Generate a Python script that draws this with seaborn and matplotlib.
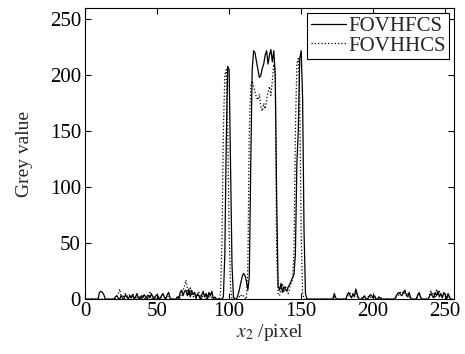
import numpy as np
import pandas as pd
import seaborn as sns
import matplotlib
matplotlib.use("Agg")
import matplotlib.pyplot as plt

# grey value profiles along x2 (one value per pixel, 0..255)
fovhfcs = [
    0, 0, 0, 0, 0, 0, 0, 0, 0, 0,
    6, 7, 6, 4, 0, 0, 0, 0, 0, 0,
    0, 2, 3, 1, 0, 3, 1, 0, 4, 2,
    0, 3, 1, 4, 0, 2, 5, 1, 0, 3,
    1, 4, 2, 0, 3, 1, 5, 2, 0, 3,
    4, 1, 0, 3, 5, 2, 0, 4, 6, 1,
    0, 0, 0, 0, 2, 0, 6, 8, 3, 7,
    8, 3, 9, 2, 8, 4, 6, 1, 5, 3,
    0, 4, 7, 2, 5, 0, 6, 3, 7, 0,
    2, 0, 0, 0, 0, 0, 2, 40, 140, 208,
    205, 120, 30, 2, 0, 0, 3, 8, 14, 20,
    23, 21, 16, 8, 20, 120, 205, 222, 220, 212,
    205, 198, 200, 206, 210, 218, 222, 210, 218, 223,
    212, 222, 200, 90, 12, 8, 14, 6, 11, 9,
    7, 11, 13, 16, 19, 22, 40, 120, 150, 215,
    222, 180, 60, 5, 0, 0, 0, 0, 0, 0,
    0, 0, 0, 0, 0, 0, 0, 0, 0, 0,
    0, 0, 0, 5, 1, 0, 0, 0, 0, 0,
    0, 0, 4, 6, 3, 1, 5, 2, 9, 4,
    0, 0, 0, 1, 3, 0, 0, 2, 4, 3,
    1, 3, 0, 0, 2, 1, 0, 0, 0, 0,
    0, 0, 0, 0, 0, 0, 3, 5, 6, 4,
    3, 6, 8, 4, 2, 6, 1, 0, 0, 0,
    0, 4, 6, 1, 0, 0, 0, 0, 0, 2,
    5, 3, 1, 6, 3, 7, 2, 5, 1, 6,
    4, 0, 5, 2, 0, 0,
]
fovhhcs = [
    0, 0, 0, 0, 0, 0, 0, 0, 0, 0,
    0, 0, 0, 0, 0, 0, 0, 0, 0, 0,
    0, 0, 3, 5, 9, 2, 4, 1, 5, 3,
    2, 4, 1, 5, 2, 0, 3, 1, 2, 0,
    3, 1, 0, 4, 2, 6, 1, 0, 2, 0,
    1, 3, 0, 2, 4, 1, 0, 3, 2, 0,
    0, 0, 0, 0, 0, 3, 1, 5, 8, 12,
    17, 9, 3, 10, 4, 2, 5, 0, 3, 6,
    2, 0, 5, 3, 0, 4, 2, 6, 0, 0,
    0, 0, 0, 0, 5, 50, 150, 200, 205, 150,
    60, 10, 0, 0, 0, 0, 0, 2, 4, 2,
    3, 1, 0, 30, 150, 190, 195, 190, 185, 180,
    178, 183, 172, 168, 175, 170, 178, 185, 190, 182,
    195, 210, 205, 40, 5, 3, 10, 14, 6, 12,
    8, 5, 10, 14, 18, 40, 150, 210, 215, 180,
    60, 5, 0, 0, 0, 0, 0, 0, 0, 0,
    0, 0, 0, 0, 0, 0, 0, 0, 0, 0,
    0, 0, 0, 3, 0, 0, 0, 0, 0, 0,
    0, 0, 2, 4, 5, 2, 3, 6, 7, 2,
    0, 0, 1, 3, 2, 0, 1, 3, 2, 1,
    2, 1, 0, 0, 1, 2, 0, 0, 0, 0,
    0, 0, 0, 0, 0, 0, 2, 3, 4, 6,
    5, 7, 4, 3, 5, 2, 0, 0, 0, 0,
    0, 3, 4, 2, 0, 0, 0, 0, 0, 3,
    8, 4, 6, 2, 9, 3, 7, 4, 2, 5,
    3, 1, 2, 0, 0, 0,
]
pixels = np.arange(len(fovhfcs))
ticks = [0, 50, 100, 150, 200, 250]

sns.set_style("ticks")
plt.rcParams['font.family'] = ['Liberation Serif', 'DejaVu Serif']
plt.rcParams['mathtext.fontset'] = 'stix'

fig = plt.figure(figsize=(4.65, 3.54), dpi=100)
ax = fig.add_axes([0.183, 0.155, 0.793, 0.822])

sns.lineplot(x=pixels, y=fovhfcs, ax=ax, color='black', lw=0.9, label='FOVHFCS')
sns.lineplot(x=pixels, y=fovhhcs, ax=ax, color='black', lw=0.9, linestyle=':', label='FOVHHCS')

ax.set_xlim(0, 256)
ax.set_ylim(0, 260)
ax.set_xticks(ticks)
ax.set_yticks(ticks)
ax.tick_params(direction='in', top=True, right=True, length=4, width=0.8,
               labelsize=15, pad=2, colors='black')
ax.tick_params(axis='y', pad=3)
for s in ax.spines.values():
    s.set_linewidth(0.8)
    s.set_color('black')
ax.set_xlabel(r'$x_2$ /pixel', fontsize=14, labelpad=1)
ax.set_ylabel('Grey value', fontsize=14, labelpad=12)

leg = ax.legend(loc='upper right', fontsize=15, frameon=True, fancybox=False,
                handlelength=1.7, handletextpad=0.1, borderpad=0.15,
                labelspacing=0.0, borderaxespad=0.25, framealpha=1)
leg.get_frame().set_edgecolor('black')
leg.get_frame().set_linewidth(0.8)

fig.savefig('out.png', dpi=100)
